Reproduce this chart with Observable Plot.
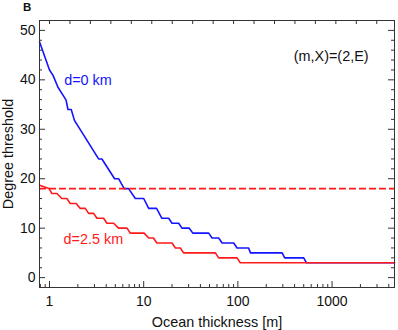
<!DOCTYPE html>
<html><head><meta charset="utf-8">
<script src="https://cdn.jsdelivr.net/npm/d3@7"></script>
<script src="https://cdn.jsdelivr.net/npm/@observablehq/plot@0.6"></script>
<style>body{margin:0;background:#fff}</style>
</head><body><div id="chart"></div>
<script>
// d = 0 km (blue) staircase
const blueThickness = [0.783, 1.0, 1.09, 1.23, 1.39, 1.50, 1.57, 1.70, 1.84, 3.32, 3.6, 4.91, 5.41, 6.2, 6.91, 8.15, 10, 11.3, 13.7, 15.6, 18.4, 20, 23.5, 25.5, 30.5, 33.2, 49, 53.2, 62.5, 68, 90.2, 98, 130, 136, 295, 314, 500, 535, 4600];
const blueDegree    = [47.7, 42, 40.9, 38.5, 36.9, 35.9, 34, 34, 31.8, 24, 24, 20, 20, 18, 18, 16, 16, 14, 14, 12, 12, 11, 11, 10, 10, 9, 9, 8, 8, 7, 7, 6, 6, 5, 5, 4, 4, 3, 3];
// d = 2.5 km (red) staircase
const redThickness = [0.783, 0.99, 1.06, 1.20, 1.35, 1.53, 1.66, 1.92, 2.12, 2.40, 2.60, 2.94, 3.19, 3.75, 4.07, 4.79, 5.41, 6.65, 7.2, 10.1, 11.3, 12.7, 13.8, 20, 21.7, 24.5, 26.5, 57.7, 62.5, 98, 106, 4600];
const redDegree    = [18.7, 18, 17, 17, 16, 16, 15, 15, 14, 14, 13, 13, 12, 12, 11, 11, 10, 10, 9, 9, 8, 8, 7, 7, 6, 6, 5, 5, 4, 4, 3, 3];
const thresholdDegree = 18;

const xTickLabels = [1, 10, 100, 1000];
const yTickLabels = [0, 10, 20, 30, 40, 50];

const annText  = ["d=0 km", "d=2.5 km", "(m,X)=(2,E)"];
const annX     = [1.43, 1.41, 392];
const annY     = [39, 6.7, 43.8];
const annColor = ["#1414ff", "#ff1a1a", "#111"];

const xDomain = [0.783, 4600];
const yDomain = [-2, 52];
const W = 398, H = 330, mL = 39, mR = 4, mT = 20, mB = 43;

const blue = blueThickness.map((x, i) => ({x, y: blueDegree[i]}));
const red = redThickness.map((x, i) => ({x, y: redDegree[i]}));
const ann = annText.map((t, i) => ({t, x: annX[i], y: annY[i], c: annColor[i]}));

const sx = Plot.scale({x: {type: "log", domain: xDomain, range: [mL, W - mR]}});
const sy = Plot.scale({y: {type: "linear", domain: yDomain, range: [H - mB, mT]}});

// tick helpers
const xMajor = xTickLabels;
const xMinor = [];
for (const dec of [0.1, 1, 10, 100, 1000]) for (let m = 2; m <= 9; m++) {
  const v = m * dec; if (v > xDomain[0] && v < xDomain[1] && !xMajor.includes(v)) xMinor.push(v);
}
const xTop = d3.range(0, 17).map(k => Math.exp(k / 2));
const yMajor = yTickLabels;
const yMinor = d3.range(-2, 53, 2).filter(v => v % 10 !== 0 && v > yDomain[0] && v < yDomain[1]);

const yB = yDomain[0], yT = yDomain[1];
const upPx = p => sy.invert(sy.apply(yB) - p);
const dnPx = p => sy.invert(sy.apply(yT) + p);
const rtPx = p => sx.invert(mL + p);
const ltPx = p => sx.invert(W - mR - p);
const frameColor = "#333";

const chart = Plot.plot({
  width: W, height: H,
  marginLeft: mL, marginRight: mR, marginTop: mT, marginBottom: mB,
  style: {fontFamily: "'Liberation Sans', Arial, sans-serif", background: "#fff", color: "#111"},
  x: {type: "log", domain: xDomain, axis: null},
  y: {domain: yDomain, axis: null},
  marks: [
    // ticks (inward)
    Plot.ruleX(xMajor, {x: d => d, y1: yB, y2: upPx(6), stroke: frameColor}),
    Plot.ruleX(xMinor, {x: d => d, y1: yB, y2: upPx(3), stroke: frameColor}),
    Plot.ruleX(xTop, {x: d => d, y1: yT, y2: dnPx(4), stroke: frameColor}),
    Plot.ruleY(yMajor, {y: d => d, x1: xDomain[0], x2: rtPx(6), stroke: frameColor}),
    Plot.ruleY(yMinor, {y: d => d, x1: xDomain[0], x2: rtPx(3), stroke: frameColor}),
    Plot.ruleY(yMajor, {y: d => d, x1: ltPx(6), x2: xDomain[1], stroke: frameColor}),
    Plot.ruleY(yMinor, {y: d => d, x1: ltPx(3), x2: xDomain[1], stroke: frameColor}),
    Plot.axisX({ticks: xTickLabels, tickSize: 0, tickPadding: 8.5, tickFormat: d3.format("d"), label: null, fontSize: 14, fill: "#111"}),
    Plot.axisY({ticks: yTickLabels, tickSize: 0, tickPadding: 4, label: null, fontSize: 14, fill: "#111"}),
    Plot.line(blue, {x: "x", y: "y", stroke: "#1414ff", strokeWidth: 1.6}),
    Plot.line(red, {x: "x", y: "y", stroke: "#ff1a1a", strokeWidth: 1.6}),
    Plot.ruleY([thresholdDegree], {stroke: "#ff1a1a", strokeWidth: 1.6, strokeDasharray: "7,3"}),
    Plot.text(ann, {x: "x", y: "y", text: "t", fill: "c", textAnchor: "start", lineAnchor: "bottom", fontSize: 14.4}),
    Plot.text(["Ocean thickness [m]"], {text: d => d, frameAnchor: "bottom", dy: 39.7, textAnchor: "middle", lineAnchor: "bottom", fontSize: 14.4, fill: "#111"}),
    Plot.text(["Degree threshold"], {text: d => d, frameAnchor: "left", dx: -31, rotate: -90, textAnchor: "middle", lineAnchor: "middle", fontSize: 14.4, fill: "#111"}),
    Plot.text(["B"], {text: d => d, frameAnchor: "top-left", dx: -16.5, dy: -10, textAnchor: "start", lineAnchor: "bottom", fontSize: 11.5, fontWeight: "bold", fill: "#111"}),
    Plot.frame({stroke: frameColor, strokeWidth: 1})
  ]
});
document.getElementById("chart").appendChild(chart);
</script>
</body></html>
